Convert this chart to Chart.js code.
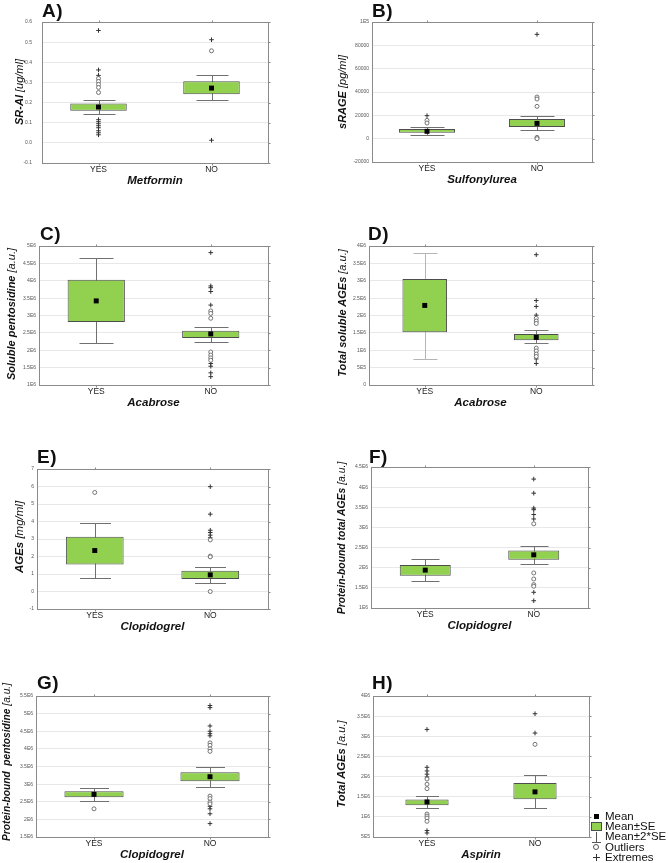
<!DOCTYPE html>
<html>
<head>
<meta charset="utf-8">
<script src="https://cdn.jsdelivr.net/npm/chart.js@4.4.1/dist/chart.umd.min.js"></script>
<style>
  body { margin: 0; background: #fff; }
  #page { position: relative; width: 668px; height: 863px; overflow: hidden; font-family: "Liberation Sans", Arial, sans-serif; color: #111; }
  canvas { position: absolute; }
  .letter { position: absolute; font-weight: bold; font-size: 19px; line-height: 19px; letter-spacing: 0.5px; }
  .ytitle { position: absolute; white-space: pre; font-style: italic; font-weight: bold; transform: translate(-50%, -50%) rotate(-90deg); line-height: 1; }
  .ytitle span { font-weight: normal; }
  .leg { position: absolute; left: 605px; font-size: 11.5px; line-height: 12px; white-space: nowrap; }
  .sym { position: absolute; }
</style>
</head>
<body>
<div id="page">
  <div class="letter" style="left:42px;top:1px">A)</div>
  <div class="letter" style="left:372px;top:1px">B)</div>
  <div class="letter" style="left:40px;top:224px">C)</div>
  <div class="letter" style="left:368px;top:224px">D)</div>
  <div class="letter" style="left:37px;top:447px">E)</div>
  <div class="letter" style="left:369px;top:447px">F)</div>
  <div class="letter" style="left:37px;top:673px">G)</div>
  <div class="letter" style="left:372px;top:673px">H)</div>

  <div class="ytitle" style="left:19px;top:92px;font-size:11px">SR-AI <span>[ug/ml]</span></div>
  <div class="ytitle" style="left:342px;top:92px;font-size:11px">sRAGE <span>[pg/ml]</span></div>
  <div class="ytitle" style="left:11px;top:314px;font-size:11px">Soluble pentosidine <span>[a.u.]</span></div>
  <div class="ytitle" style="left:342px;top:313px;font-size:11px">Total soluble AGEs <span>[a.u.]</span></div>
  <div class="ytitle" style="left:20px;top:537px;font-size:11.5px">AGEs <span>[mg/ml]</span></div>
  <div class="ytitle" style="left:342px;top:538px;font-size:10.4px">Protein-bound total AGEs <span>[a.u.]</span></div>
  <div class="ytitle" style="left:7px;top:762px;font-size:10.2px">Protein-bound  pentosidine <span>[a.u.]</span></div>
  <div class="ytitle" style="left:342px;top:764px;font-size:11.2px">Total AGEs <span>[a.u.]</span></div>

  <!-- legend -->
  <div class="sym" style="left:594px;top:814px;width:5px;height:5px;background:#000"></div>
  <div class="leg" style="top:810px">Mean</div>
  <div class="sym" style="left:591px;top:822px;width:9px;height:7px;background:#92d050;border:1px solid #4d4d4d"></div>
  <div class="leg" style="top:820px">Mean±SE</div>
  <div class="sym" style="left:596px;top:832px;width:1px;height:10px;background:#555"></div>
  <div class="sym" style="left:592px;top:842px;width:9px;height:1px;background:#555"></div>
  <div class="leg" style="top:830px">Mean±2*SE</div>
  <div class="sym" style="left:593px;top:844px;width:4px;height:4px;border:1px solid #555;border-radius:50%"></div>
  <div class="leg" style="top:841px">Outliers</div>
  <div class="sym" style="left:593px;top:857px;width:7px;height:1px;background:#333"></div>
  <div class="sym" style="left:596px;top:854px;width:1px;height:7px;background:#333"></div>
  <div class="leg" style="top:851px">Extremes</div>
</div>
<script>
const groups = ['YES', 'NO'];

// A) SR-AI vs Metformin
const aBox = [[0.159, 0.196], [0.241, 0.306]];
const aMean = [0.178, 0.272];
const aWhisk = [[0.143, 0.213], [0.213, 0.336]];
const aOutYes = [0.32, 0.305, 0.29, 0.275, 0.25];
const aOutNo = [0.457];
const aExtYes = [0.558, 0.362, 0.335, 0.115, 0.105, 0.095, 0.085, 0.075, 0.06, 0.05, 0.04];
const aExtNo = [0.512, 0.013];
const aTicks = ['-0.1', '0.0', '0.1', '0.2', '0.3', '0.4', '0.5', '0.6'];

// B) sRAGE vs Sulfonylurea
const bBox = [[5000, 8300], [10000, 16900]];
const bMean = [6300, 13100];
const bWhisk = [[3200, 10000], [7200, 19700]];
const bOutYes = [15700, 13400];
const bOutNo = [35700, 34000, 27700, 1100, 0];
const bExtYes = [19700];
const bExtNo = [89400];
const bTicks = ['-20000', '0', '20000', '40000', '60000', '80000', '1E5'];

// C) Soluble pentosidine vs Acabrose
const cBox = [[2.81e6, 4.03e6], [2.35e6, 2.56e6]];
const cMean = [3.42e6, 2.47e6];
const cWhisk = [[2.2e6, 4.66e6], [2.25e6, 2.67e6]];
const cOutYes = [];
const cOutNo = [3.13e6, 3.06e6, 2.92e6, 1.95e6, 1.86e6, 1.78e6, 1.71e6];
const cExtYes = [];
const cExtNo = [4.81e6, 3.85e6, 3.8e6, 3.69e6, 3.3e6, 1.62e6, 1.54e6, 1.35e6, 1.24e6];
const cTicks = ['1E6', '1.5E6', '2E6', '2.5E6', '3E6', '3.5E6', '4E6', '4.5E6', '5E6'];

// D) Total soluble AGEs vs Acabrose
const dBox = [[1.52e6, 3.05e6], [1.29e6, 1.47e6]];
const dMean = [2.29e6, 1.37e6];
const dWhisk = [[0.76e6, 3.81e6], [1.2e6, 1.57e6]];
const dOutYes = [];
const dOutNo = [1.92e6, 1.84e6, 1.77e6, 1.06e6, 0.98e6, 0.89e6, 0.82e6];
const dExtYes = [];
const dExtNo = [3.75e6, 2.43e6, 2.26e6, 2.01e6, 0.75e6, 0.62e6];
const dTicks = ['0', '5E5', '1E6', '1.5E6', '2E6', '2.5E6', '3E6', '3.5E6', '4E6'];

// E) AGEs vs Clopidogrel
const eBox = [[1.54, 3.13], [0.72, 1.18]];
const eMean = [2.34, 0.95];
const eWhisk = [[0.8, 3.91], [0.47, 1.41]];
const eOutYes = [5.66];
const eOutNo = [2.95, 2.02, 1.98, 0.0];
const eExtYes = [];
const eExtNo = [5.99, 4.42, 3.5, 3.37, 3.22, 3.07];
const eTicks = ['-1', '0', '1', '2', '3', '4', '5', '6', '7'];

// F) Protein-bound total AGEs vs Clopidogrel
const fBox = [[1.8e6, 2.07e6], [2.2e6, 2.43e6]];
const fMean = [1.94e6, 2.32e6];
const fWhisk = [[1.68e6, 2.22e6], [2.09e6, 2.55e6]];
const fOutYes = [];
const fOutNo = [3.09e6, 1.87e6, 1.72e6, 1.58e6, 1.54e6];
const fExtYes = [];
const fExtNo = [4.2e6, 3.85e6, 3.48e6, 3.44e6, 3.32e6, 3.21e6, 1.39e6, 1.18e6];
const fTicks = ['1E6', '1.5E6', '2E6', '2.5E6', '3E6', '3.5E6', '4E6', '4.5E6'];

// G) Protein-bound pentosidine vs Clopidogrel
const gBox = [[2.63e6, 2.8e6], [3.08e6, 3.34e6]];
const gMean = [2.71e6, 3.21e6];
const gWhisk = [[2.53e6, 2.9e6], [2.93e6, 3.5e6]];
const gOutYes = [2.3e6];
const gOutNo = [4.17e6, 4.1e6, 4.0e6, 3.93e6, 2.66e6, 2.59e6, 2.49e6, 2.44e6];
const gExtYes = [];
const gExtNo = [5.23e6, 5.17e6, 4.65e6, 4.5e6, 4.43e6, 4.37e6, 2.37e6, 2.3e6, 2.16e6, 1.88e6];
const gTicks = ['1.5E6', '2E6', '2.5E6', '3E6', '3.5E6', '4E6', '4.5E6', '5E6', '5.5E6'];

// H) Total AGEs vs Aspirin
const hBox = [[1.29e6, 1.43e6], [1.44e6, 1.84e6]];
const hMean = [1.37e6, 1.62e6];
const hWhisk = [[1.22e6, 1.51e6], [1.23e6, 2.03e6]];
const hOutYes = [1.94e6, 1.81e6, 1.7e6, 1.07e6, 1.02e6, 0.97e6, 0.89e6];
const hOutNo = [2.8e6];
const hExtYes = [3.17e6, 2.23e6, 2.14e6, 2.06e6, 1.99e6, 0.66e6, 0.6e6];
const hExtNo = [3.56e6, 3.08e6];
const hTicks = ['5E5', '1E6', '1.5E6', '2E6', '2.5E6', '3E6', '3.5E6', '4E6'];

const FONT = '"Liberation Sans", Arial, sans-serif';

function pts(yes, no) {
  return yes.map(v => ({ x: 'YES', y: v })).concat(no.map(v => ({ x: 'NO', y: v })));
}

// mean ± 2*SE whiskers, drawn under the boxes
const whiskerPlugin = {
  id: 'whiskers',
  beforeDatasetsDraw(chart, args, opts) {
    const { ctx, scales: { x, y } } = chart;
    ctx.save();
    ctx.lineWidth = 1;
    opts.data.forEach((w, i) => {
      const px = Math.round(x.getPixelForValue(i)) + 0.5;
      const y1 = Math.round(y.getPixelForValue(w[0])) + 0.5;
      const y2 = Math.round(y.getPixelForValue(w[1])) + 0.5;
      ctx.strokeStyle = opts.colors[i];
      ctx.beginPath();
      ctx.moveTo(px, y1); ctx.lineTo(px, y2);
      ctx.moveTo(px - opts.cap / 2, y1); ctx.lineTo(px + opts.cap / 2, y1);
      ctx.moveTo(px - opts.cap / 2, y2); ctx.lineTo(px + opts.cap / 2, y2);
      ctx.stroke();
    });
    ctx.restore();
  }
};

const framePlugin = {
  id: 'frame',
  afterDatasetsDraw(chart) {
    const { ctx, chartArea: a, scales: { x, y } } = chart;
    const l = Math.round(a.left) + 0.5, t = Math.round(a.top) + 0.5;
    const r = Math.round(a.right) + 0.5, b = Math.round(a.bottom) + 0.5;
    ctx.save();
    ctx.strokeStyle = '#8a8a8a';
    ctx.lineWidth = 1;
    ctx.strokeRect(l, t, r - l, b - t);
    ctx.beginPath();
    y.ticks.forEach(tk => {
      const py = Math.round(y.getPixelForValue(tk.value)) + 0.5;
      ctx.moveTo(r, py); ctx.lineTo(r + 2, py);
    });
    groups.forEach((g, i) => {
      const px = Math.round(x.getPixelForValue(i)) + 0.5;
      ctx.moveTo(px, t); ctx.lineTo(px, t - 2);
      ctx.moveTo(px, b); ctx.lineTo(px, b + 2);
    });
    ctx.stroke();
    ctx.restore();
  }
};

const panels = [
  { cell: [0, 0, 334, 215], L: 42, T: 22, R: 268, B: 163, min: -0.1, max: 0.6, step: 0.1, ticks: aTicks, xTitle: 'Metformin',
    box: aBox, mean: aMean, whisk: aWhisk, out: pts(aOutYes, aOutNo), ext: pts(aExtYes, aExtNo), bw: 0.5, cap: 32, tickPad: 10 },
  { cell: [334, 0, 334, 215], L: 372, T: 22, R: 592, B: 162, min: -20000, max: 100000, step: 20000, ticks: bTicks, xTitle: 'Sulfonylurea',
    box: bBox, mean: bMean, whisk: bWhisk, out: pts(bOutYes, bOutNo), ext: pts(bExtYes, bExtNo), bw: 0.51, cap: 34, tickPad: 3 },
  { cell: [0, 215, 334, 215], L: 39, T: 246, R: 268, B: 385, min: 1e6, max: 5e6, step: 5e5, ticks: cTicks, xTitle: 'Acabrose',
    box: cBox, mean: cMean, whisk: cWhisk, out: pts(cOutYes, cOutNo), ext: pts(cExtYes, cExtNo), bw: 0.5, cap: 34, tickPad: 3 },
  { cell: [334, 215, 334, 215], L: 369, T: 246, R: 592, B: 385, min: 0, max: 4e6, step: 5e5, ticks: dTicks, xTitle: 'Acabrose',
    box: dBox, mean: dMean, whisk: dWhisk, out: pts(dOutYes, dOutNo), ext: pts(dExtYes, dExtNo), bw: 0.4, cap: 24, tickPad: 3,
    wColors: ['#b5b5b5', '#777'] },
  { cell: [0, 430, 334, 215], L: 37, T: 469, R: 268, B: 609, min: -1, max: 7, step: 1, ticks: eTicks, xTitle: 'Clopidogrel',
    box: eBox, mean: eMean, whisk: eWhisk, out: pts(eOutYes, eOutNo), ext: pts(eExtYes, eExtNo), bw: 0.5, cap: 31, tickPad: 3 },
  { cell: [334, 430, 334, 215], L: 371, T: 467, R: 588, B: 608, min: 1e6, max: 4.5e6, step: 5e5, ticks: fTicks, xTitle: 'Clopidogrel',
    box: fBox, mean: fMean, whisk: fWhisk, out: pts(fOutYes, fOutNo), ext: pts(fExtYes, fExtNo), bw: 0.47, cap: 28, tickPad: 3 },
  { cell: [0, 645, 334, 218], L: 36, T: 696, R: 268, B: 837, min: 1.5e6, max: 5.5e6, step: 5e5, ticks: gTicks, xTitle: 'Clopidogrel',
    box: gBox, mean: gMean, whisk: gWhisk, out: pts(gOutYes, gOutNo), ext: pts(gExtYes, gExtNo), bw: 0.51, cap: 29, tickPad: 3 },
  { cell: [334, 645, 334, 218], L: 373, T: 696, R: 589, B: 837, min: 5e5, max: 4e6, step: 5e5, ticks: hTicks, xTitle: 'Aspirin',
    box: hBox, mean: hMean, whisk: hWhisk, out: pts(hOutYes, hOutNo), ext: pts(hExtYes, hExtNo), bw: 0.4, cap: 23, tickPad: 3 }
];

const X_AXIS_H = 26;

panels.forEach(p => {
  const [cx, cy, cw, ch] = p.cell;
  const cv = document.createElement('canvas');
  cv.width = cw; cv.height = ch;
  cv.style.left = cx + 'px'; cv.style.top = cy + 'px';
  cv.style.width = cw + 'px'; cv.style.height = ch + 'px';
  document.getElementById('page').insertBefore(cv, document.getElementById('page').firstChild);

  new Chart(cv.getContext('2d'), {
    type: 'bar',
    data: {
      labels: groups,
      datasets: [
        { type: 'line', data: groups.map((g, i) => ({ x: g, y: p.mean[i] })), showLine: false,
          pointStyle: 'rect', pointRadius: 3.5, pointBackgroundColor: '#000', pointBorderColor: '#000', pointBorderWidth: 0, order: 0 },
        { type: 'line', data: p.out, showLine: false, pointStyle: 'circle', pointRadius: 2,
          pointBackgroundColor: '#fff', pointBorderColor: '#666', pointBorderWidth: 0.9, order: 1 },
        { type: 'line', data: p.ext, showLine: false, pointStyle: 'cross', pointRadius: 2.3,
          pointBorderColor: '#333', pointBorderWidth: 1, order: 2 },
        { type: 'bar', data: p.box, backgroundColor: '#92d050', borderColor: '#4d4d4d', borderWidth: 1,
          borderSkipped: false, barPercentage: p.bw, categoryPercentage: 1, order: 3 }
      ]
    },
    options: {
      responsive: false,
      animation: false,
      devicePixelRatio: 1,
      layout: { padding: { left: 0, top: p.T - cy, right: cx + cw - p.R, bottom: Math.max(0, cy + ch - p.B - X_AXIS_H) } },
      plugins: {
        legend: { display: false },
        tooltip: { enabled: false },
        whiskers: { data: p.whisk, cap: p.cap, colors: p.wColors || ['#707070', '#707070'] }
      },
      scales: {
        x: {
          offset: true,
          grid: { display: false, drawTicks: false },
          border: { display: false },
          ticks: { color: '#222', padding: 1.4, font: { family: FONT, size: 8.5 } },
          title: { display: true, text: p.xTitle, color: '#111', padding: { top: 0, bottom: 1.1 },
                   font: { family: FONT, size: 11.5, weight: 'bold', style: 'italic' } },
          afterFit: s => { s.height = X_AXIS_H; }
        },
        y: {
          min: p.min, max: p.max,
          grid: { color: '#e8e8e8', drawTicks: false },
          border: { display: false },
          ticks: { stepSize: p.step, autoSkip: false, color: '#555', padding: p.tickPad,
                   font: { family: FONT, size: 5 }, callback: (v, i) => p.ticks[i] },
          afterFit: s => { s.width = p.L - cx; }
        }
      }
    },
    plugins: [whiskerPlugin, framePlugin]
  });
});
</script>
</body>
</html>
